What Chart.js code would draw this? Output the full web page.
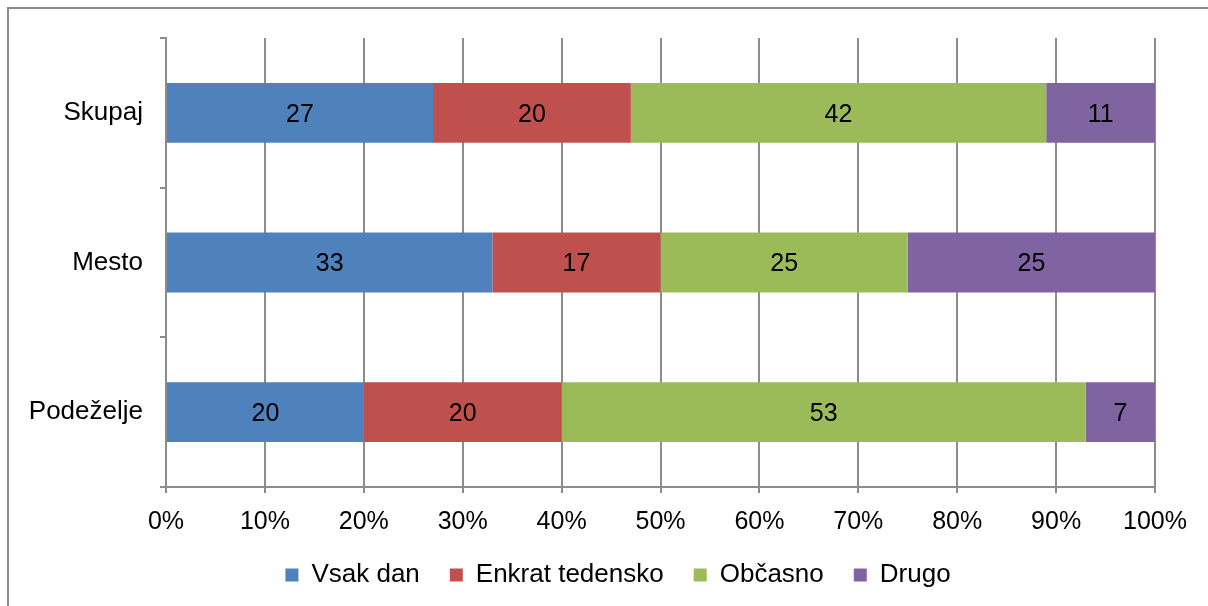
<!DOCTYPE html>
<html>
<head>
<meta charset="utf-8">
<script src="https://cdn.jsdelivr.net/npm/chart.js@4.4.0/dist/chart.umd.min.js"></script>
<style>
  html, body { margin: 0; padding: 0; background: #fff; }
  #wrap { width: 1208px; height: 606px; }
</style>
</head>
<body>
<div id="wrap"><canvas id="chart" width="1208" height="606"></canvas></div>
<script>
// Data
const categories = ["Skupaj", "Mesto", "Podeželje"];
const seriesNames = ["Vsak dan", "Enkrat tedensko", "Občasno", "Drugo"];
const vsakDan = [27, 33, 20];
const enkratTedensko = [20, 17, 20];
const obcasno = [42, 25, 53];
const drugo = [11, 25, 7];
const xTicks = [0, 10, 20, 30, 40, 50, 60, 70, 80, 90, 100];

const colors = ["#4F81BD", "#C0504D", "#9BBB59", "#8064A2"];
const gridGray = "#8c8c8c";
const fontFamily = "'Liberation Sans', Arial, sans-serif";

// outer frame (only top and left edges are visible in the reference)
const framePlugin = {
  id: "frame",
  beforeDraw(chart) {
    const ctx = chart.ctx;
    ctx.save();
    ctx.fillStyle = "#fff";
    ctx.fillRect(0, 0, chart.width, chart.height);
    ctx.strokeStyle = "#8c8c8c";
    ctx.lineWidth = 2;
    ctx.beginPath();
    ctx.moveTo(8, chart.height + 5);
    ctx.lineTo(8, 8);
    ctx.lineTo(chart.width + 5, 8);
    ctx.stroke();
    ctx.restore();
  }
};

// value labels in the middle of each segment
const valueLabels = {
  id: "valueLabels",
  afterDatasetsDraw(chart) {
    const ctx = chart.ctx;
    ctx.save();
    ctx.font = "25px " + fontFamily;
    ctx.fillStyle = "#000";
    ctx.textAlign = "center";
    ctx.textBaseline = "middle";
    chart.data.datasets.forEach(function (ds, i) {
      const meta = chart.getDatasetMeta(i);
      meta.data.forEach(function (bar, j) {
        const c = bar.getCenterPoint();
        ctx.fillText(String(ds.data[j]), c.x, c.y + 2);
      });
    });
    ctx.restore();
  }
};

const seriesData = [vsakDan, enkratTedensko, obcasno, drugo];

new Chart(document.getElementById("chart").getContext("2d"), {
  type: "bar",
  data: {
    labels: categories,
    datasets: seriesNames.map(function (name, i) {
      return {
        label: name,
        data: seriesData[i],
        backgroundColor: colors[i],
        borderWidth: 0,
        barPercentage: 0.4,
        categoryPercentage: 1.0
      };
    })
  },
  options: {
    indexAxis: "y",
    responsive: false,
    animation: false,
    layout: { padding: { top: 38, right: 0, left: 28, bottom: 8 } },
    scales: {
      x: {
        stacked: true,
        min: 0,
        max: 100,
        afterBuildTicks(scale) {
          scale.ticks = xTicks.map(function (v) { return { value: v }; });
        },
        afterFit(scale) { scale.height = 45; },
        ticks: {
          color: "#000",
          font: { size: 25, family: fontFamily },
          padding: 14,
          callback: function (v) { return v + "%"; }
        },
        grid: { color: gridGray, lineWidth: 2, tickLength: 6, drawTicks: true },
        border: { color: gridGray, width: 2 }
      },
      y: {
        stacked: true,
        offset: true,
        afterFit(scale) { scale.width = 138; },
        ticks: {
          color: "#000",
          font: { size: 26, family: fontFamily },
          padding: 17
        },
        grid: {
          offset: true,
          drawOnChartArea: false,
          drawTicks: true,
          tickLength: 6,
          color: gridGray,
          lineWidth: 2
        },
        border: { color: gridGray, width: 2 }
      },
      // empty right-hand axis, only reserves the blank margin right of the plot
      yRight: {
        type: "category",
        position: "right",
        afterFit(scale) { scale.width = 53; },
        ticks: { display: false },
        grid: { display: false },
        border: { display: false }
      }
    },
    plugins: {
      legend: {
        position: "bottom",
        labels: {
          color: "#000",
          font: { size: 26, family: fontFamily },
          boxWidth: 13,
          boxHeight: 13,
          padding: 30
        }
      },
      tooltip: { enabled: false }
    }
  },
  plugins: [framePlugin, valueLabels]
});
</script>
</body>
</html>
